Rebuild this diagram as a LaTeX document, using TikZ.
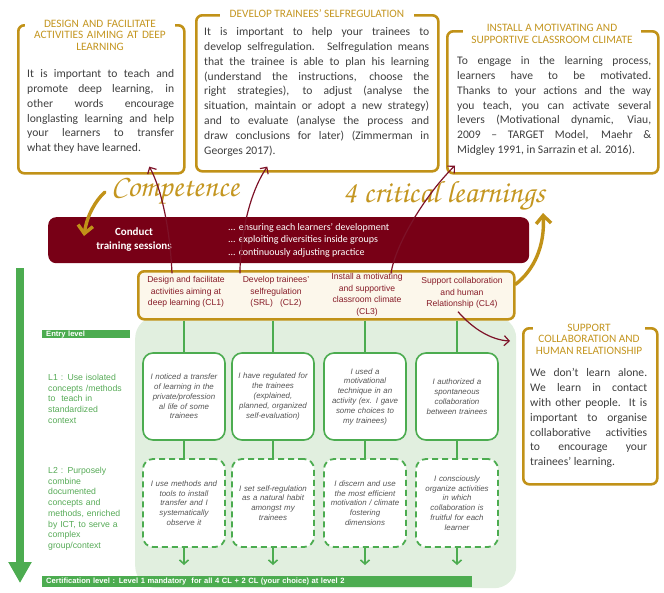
\documentclass[tikz,border=0pt]{standalone}
\usepackage[T1]{fontenc}
\usepackage{fontspec}
\setmainfont{Carlito}
\newfontfamily\arialfont{Liberation Sans}
\newcommand\handfont{\fontencoding{T1}\fontfamily{pzc}\fontseries{mb}\fontshape{it}\selectfont}
\usetikzlibrary{arrows.meta,calc}

\definecolor{goldline}{RGB}{193,146,24}
\definecolor{goldtext}{RGB}{196,150,32}
\definecolor{bannerred}{RGB}{120,0,22}
\definecolor{arrowred}{RGB}{125,18,40}
\definecolor{clred}{RGB}{135,28,40}
\definecolor{clfill}{RGB}{252,247,235}
\definecolor{lvgreen}{RGB}{76,172,80}
\definecolor{lvtext}{RGB}{86,170,86}
\definecolor{panelgreen}{RGB}{225,239,223}
\definecolor{bodygray}{RGB}{62,62,62}
\definecolor{cellgray}{RGB}{85,85,85}

\tikzset{
  goldframe/.style={draw=goldline, line width=2.6, rounded corners=6, inner sep=0, anchor=north west},
  boxtitle/.style={fill=white, text=goldtext, inner xsep=4, inner ysep=0.5, align=center,
    font=\fontsize{11.3}{11.5}\selectfont},
  boxbody/.style={text=bodygray, inner sep=0, align=justify, anchor=north west,
    font=\fontsize{11.6}{14.8}\selectfont,
    execute at begin node={\tolerance=10000\relax\hbadness=10000\relax}},
  handtext/.style={text=goldtext, inner sep=0, font=\handfont\fontsize{31}{31}\selectfont},
  goldarrow/.style={draw=goldline, line width=3.4, line cap=round, -{Straight Barb[length=8pt,width=15pt]}},
  redarrow/.style={draw=arrowred, line width=1.2, -{Straight Barb[length=5pt,width=10pt]}},
  bannerbox/.style={fill=bannerred, rounded corners=8, inner sep=0, anchor=north west},
  clbox/.style={draw=goldline, fill=clfill, line width=2.6, rounded corners=6, inner sep=0, anchor=north west},
  cltext/.style={text=clred, inner sep=0, align=center, font=\arialfont\fontsize{8.6}{11.5}\selectfont},
  panel/.style={fill=panelgreen, rounded corners=22, inner sep=0, anchor=north west},
  cellone/.style={draw=lvgreen, fill=white, line width=1.6, rounded corners=10,
    minimum width=82, minimum height=87, text width=76, inner sep=0, align=center,
    text=cellgray, font=\arialfont\itshape\fontsize{7.9}{9.8}\selectfont},
  celltwo/.style={cellone, dash pattern=on 6pt off 4pt, line width=1.8, minimum height=88},
  lvline/.style={draw=lvgreen, line width=1.6},
  lvtip/.style={lvline, -{Straight Barb[length=4pt,width=9pt]}},
  lvlabel/.style={text=lvtext, inner sep=0, align=left, anchor=north west, text width=86,
    font=\arialfont\fontsize{8.7}{10.7}\selectfont},
  greenbar/.style={fill=lvgreen, text=white, inner xsep=4, inner ysep=0.5, align=left, anchor=north west,
    font=\arialfont\bfseries\fontsize{7.6}{8.5}\selectfont},
  levelarrow/.style={draw=lvgreen, line width=8, -{Triangle[length=21pt,width=22pt]}}
}

\begin{document}
\begin{tikzpicture}[x=1pt,y=1pt,yscale=-1,xscale=1]
\useasboundingbox (0,0) rectangle (664,592);

%Shape: Rounded Rect [green panel]
\node[panel, minimum width=381, minimum height=272] (panel) at (135,316) {};

%Shape: Boxes [top]
\node[goldframe, minimum width=166, minimum height=148] (dlbox) at (17,24) {};
\node[goldframe, minimum width=242, minimum height=156] (srbox) at (195,14) {};
\node[goldframe, minimum width=211, minimum height=142] (mcbox) at (446,30) {};
\node[goldframe, minimum width=134, minimum height=156] (rcbox) at (522,327) {};

% Text Node
\node[boxtitle, text width=142] (dltitle) at (100,35) {DESIGN AND FACILITATE\\ACTIVITIES AIMING AT DEEP\\LEARNING};
\node[boxtitle, inner xsep=10] (srtitle) at (317,14) {DEVELOP TRAINEES’ SELFREGULATION};
\node[boxtitle, inner xsep=8] (mctitle) at (552,34) {INSTALL A MOTIVATING AND\\SUPPORTIVE CLASSROOM CLIMATE};
\node[boxtitle, inner xsep=3] (rctitle) at (589,339) {SUPPORT\\COLLABORATION AND\\HUMAN RELATIONSHIP};

% Text Node
\node[boxbody, text width=147] (dltext) at (27,69.5) {It is important to teach and\linebreak
promote deep learning, in\linebreak other words encourage\linebreak
longlasting learning and help\linebreak your learners to transfer\linebreak
what they have learned.};
% Text Node
\node[boxbody, text width=225] (srtext) at (204,27.5) {It is important to help your trainees to\linebreak
develop selfregulation. Selfregulation means\linebreak
that the trainee is able to plan his learning\linebreak
(understand the instructions, choose the\linebreak
right strategies), to adjust (analyse the\linebreak
situation, maintain or adopt a new strategy)\linebreak
and to evaluate (analyse the process and\linebreak
draw conclusions for later) (Zimmerman in\linebreak
Georges 2017).};
% Text Node
\node[boxbody, text width=194] (mctext) at (457,56.5) {To engage in the learning process,\linebreak
learners have to be motivated.\linebreak
Thanks to your actions and the way\linebreak
you teach, you can activate several\linebreak
levers (Motivational dynamic, Viau,\linebreak
2009 – TARGET Model, Maehr \&\linebreak
Midgley 1991, in Sarrazin et al. 2016).};
% Text Node
\node[boxbody, text width=117] (rctext) at (530,368.5) {We don’t learn alone.\linebreak
We learn in contact\linebreak with other people. It is\linebreak
important to organise\linebreak collaborative activities\linebreak
to encourage your\linebreak trainees’ learning.};

% Text Node [handwritten]
\node[handtext] (comp) at (175,192) {Competence};
\node[handtext] (crit) at (444,196) {4 critical learnings};

%Shape: Banner
\node[bannerbox, minimum width=481, minimum height=46] (banner) at (48,217) {};
\node[text=white, inner sep=0, align=center, font=\bfseries\fontsize{11}{14}\selectfont] (conduct) at (134,240) {Conduct\\training sessions};
\node[text=white, inner sep=0, align=left, anchor=west, font=\fontsize{10}{12.4}\selectfont] (ways) at (228,240)
  {... ensuring each learners’ development\\... exploiting diversities inside groups\\... continuously adjusting practice};

%Shape: CL row
\node[clbox, minimum width=376, minimum height=48] (clrow) at (137,270) {};
\node[cltext] (cl1) at (186,292) {Design and facilitate\\activities aiming at\\deep learning (CL1)};
\node[cltext] (cl2) at (276,292) {Develop trainees’\\selfregulation\\(SRL)\ \ \ (CL2)};
\node[cltext] (cl3) at (367,295) {Install a motivating\\and supportive\\classroom climate\\(CL3)};
\node[cltext] (cl4) at (462,293) {Support collaboration\\and human\\Relationship (CL4)};

%Curve Lines [gold]
\draw[goldarrow] ($(comp.west)+(-6,0)$) .. controls (96,200) and (87,215) .. ($(banner.north west)+(36,19)$);
\draw[goldarrow] ($(clrow.east)+(0,-11)$) .. controls (534,270) and (545,246) .. (543,213);

%Curve Lines [red]
\draw[redarrow] ($(cl1.north)+(-14,-3)$) .. controls (170,230) and (162,190) .. ($(dlbox.south)+(48,-8)$);
\draw[redarrow] ($(cl2.north)+(-36,-3)$) .. controls (240,240) and (248,195) .. ($(srbox.south)+(-50,-6)$);
\draw[redarrow] ($(cl3.north)+(24,0)$) .. controls (395,245) and (425,195) .. ($(mcbox.south west)+(9,-9)$);
\draw[redarrow] ($(cl4.south)+(-4,3)$) .. controls (474,330) and (492,340) .. ($(rcbox.north west)+(-12,14)$);

%Shape: Level arrow
\coordinate (lvtop) at (20,268);
\coordinate (lvbot) at (20,583);
\draw[levelarrow] (lvtop) -- (lvbot);

% Text Node [levels]
\node[greenbar, text width=80, minimum height=8] (entry) at (42,330) {Entry level};
\node[lvlabel] (lone) at (48,374) {L1 : Use isolated\\concepts /methods\\to\ \ teach in\\standardized\\context};
\node[lvlabel] (ltwo) at (48,467) {L2 : Purposely\\combine\\documented\\concepts and\\methods, enriched\\by ICT, to serve a\\complex\\group/context};
\node[greenbar, text width=422, minimum height=11] (cert) at (42,576) {Certification level : Level 1 mandatory\ \ for all 4 CL + 2 CL (your choice) at level 2};

%Shape: Cells L1
\node[cellone] (a1) at (184,396.5) {I noticed a transfer\\of learning in the\\private/profession\\al life of some\\trainees};
\node[cellone] (a2) at (273,396.5) {I have regulated for\\the trainees\\(explained,\\planned, organized\\self-evaluation)};
\node[cellone] (a3) at (365,396.5) {I used a\\motivational\\technique in an\\activity (ex. I gave\\some choices to\\my trainees)};
\node[cellone] (a4) at (457,396.5) {I authorized a\\spontaneous\\collaboration\\between trainees};

%Shape: Cells L2
\node[celltwo] (b1) at (184,503) {I use methods and\\tools to install\\transfer and I\\systematically\\observe it};
\node[celltwo] (b2) at (273,503) {I set self-regulation\\as a natural habit\\amongst my\\trainees};
\node[celltwo] (b3) at (365,503) {I discern and use\\the most efficient\\motivation / climate\\fostering\\dimensions};
\node[celltwo] (b4) at (457,503) {I consciously\\organize activities\\in which\\collaboration is\\fruitful for each\\learner};

%Straight Lines [green]
\foreach \i in {1,...,4} {
  \draw[lvline] (a\i.north |- clrow.south) -- (a\i.north);
  \draw[lvline] (a\i) -- (b\i);
  \draw[lvtip, shorten >=11] (b\i.south) -- (b\i.south |- cert.north);
}

\end{tikzpicture}
\end{document}
